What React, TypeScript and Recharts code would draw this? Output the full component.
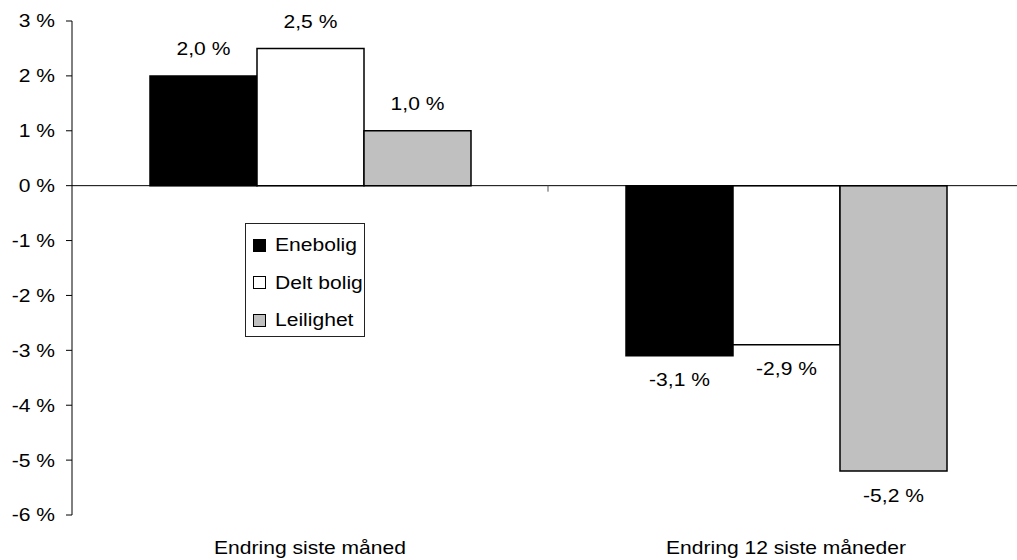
import React from "react";
import {
  BarChart,
  Bar,
  XAxis,
  YAxis,
  ReferenceLine,
  LabelList,
} from "recharts";

const categories = ["Endring siste måned", "Endring 12 siste måneder"];
const enebolig = [2.0, -3.1];
const deltBolig = [2.5, -2.9];
const leilighet = [1.0, -5.2];
const yTicks = [-6, -5, -4, -3, -2, -1, 0, 1, 2, 3];

const series = [
  { key: "enebolig", name: "Enebolig", fill: "#000000", values: enebolig },
  { key: "delt", name: "Delt bolig", fill: "#ffffff", values: deltBolig },
  { key: "leilighet", name: "Leilighet", fill: "#c0c0c0", values: leilighet },
];

const data = categories.map((name, i) => {
  const row: Record<string, string | number> = { name };
  series.forEach((s) => {
    row[s.key] = s.values[i];
  });
  return row;
});

const FONT = '"Liberation Sans", Arial, sans-serif';
const SX = 1.17; // the text is set slightly wide

function WideText({ x, y, anchor, children }: any) {
  return (
    <text
      x={x}
      y={y}
      textAnchor={anchor}
      dominantBaseline="central"
      fontSize={18}
      fontFamily={FONT}
      fill="#000"
      transform={`translate(${x} ${y}) scale(${SX} 1) translate(${-x} ${-y})`}
    >
      {children}
    </text>
  );
}

const fmtPct = (v: number) => `${v.toFixed(1).replace(".", ",")} %`;

function ValueLabel(props: any) {
  const { x, y, width, height, value } = props;
  const top = Math.min(y, y + height);
  const bottom = Math.max(y, y + height);
  const cx = x + width / 2;
  const ly = value >= 0 ? top - 27 : bottom + 24;
  return (
    <WideText x={cx} y={ly} anchor="middle">
      {fmtPct(value)}
    </WideText>
  );
}

// zero line with the small divider tick between the two categories
function ZeroLine(props: any) {
  const { x1, y1, x2, y2 } = props;
  const mid = (x1 + x2) / 2;
  return (
    <g>
      <line x1={x1} y1={y1} x2={x2} y2={y2} stroke="#000" strokeWidth={1} />
      <line x1={mid} y1={y1} x2={mid} y2={y1 + 6} stroke="#555" strokeWidth={1} />
    </g>
  );
}

function LegendBox() {
  return (
    <div
      style={{
        position: "absolute",
        left: 245,
        top: 223,
        width: 118,
        height: 112,
        border: "1px solid #222",
        background: "#fff",
      }}
    >
      {series.map((s, i) => (
        <div
          key={s.key}
          style={{
            position: "absolute",
            left: 7,
            top: 14 + i * 37.5,
            height: 14,
            display: "flex",
            alignItems: "center",
          }}
        >
          <span
            style={{
              display: "inline-block",
              width: 11,
              height: 11,
              background: s.fill,
              border: "1px solid #000",
            }}
          />
          <span
            style={{
              display: "inline-block",
              marginLeft: 9,
              fontFamily: FONT,
              fontSize: 18,
              lineHeight: "14px",
              color: "#000",
              transform: `scaleX(${SX})`,
              transformOrigin: "left center",
              whiteSpace: "nowrap",
            }}
          >
            {s.name}
          </span>
        </div>
      ))}
    </div>
  );
}

export default function App() {
  return (
    <div
      style={{
        position: "absolute",
        left: 0,
        top: 0,
        width: 1017,
        height: 560,
        overflow: "hidden",
        background: "#fff",
        fontFamily: FONT,
      }}
    >
      <BarChart
        width={1030}
        height={560}
        data={data}
        margin={{ top: 21, right: 6, bottom: 0, left: 0 }}
        barCategoryGap={78}
        barGap={0}
      >
        <XAxis
          dataKey="name"
          height={45}
          axisLine={false}
          tickLine={false}
          tickSize={0}
          tickMargin={0}
          tick={(p: any) => (
            <WideText x={p.x} y={p.y + 33} anchor="middle">
              {p.payload.value}
            </WideText>
          )}
        />
        <YAxis
          width={72}
          domain={[-6, 3]}
          ticks={yTicks}
          interval={0}
          allowDataOverflow
          axisLine={{ stroke: "#000" }}
          tickLine={{ stroke: "#000" }}
          tickSize={6}
          tickMargin={11}
          tick={(p: any) => (
            <WideText x={p.x} y={p.y} anchor="end">
              {`${p.payload.value} %`}
            </WideText>
          )}
        />
        {series.map((s) => (
          <Bar
            key={s.key}
            dataKey={s.key}
            name={s.name}
            fill={s.fill}
            stroke="#000"
            strokeWidth={1.5}
            isAnimationActive={false}
          >
            <LabelList dataKey={s.key} content={ValueLabel} />
          </Bar>
        ))}
        <ReferenceLine y={0} shape={ZeroLine} />
      </BarChart>
      <LegendBox />
    </div>
  );
}
